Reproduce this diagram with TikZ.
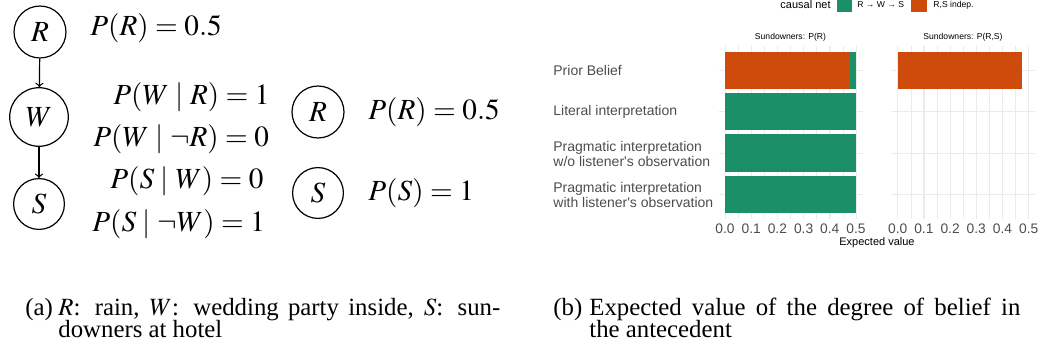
\documentclass[tikz,border=0pt]{standalone}
\usepackage{mathptmx}
\usepackage{fontspec}
\setmainfont{Liberation Serif}
\newfontfamily\plotfont{Liberation Sans}
\definecolor{netgreen}{HTML}{1B8F68}
\definecolor{indeporange}{HTML}{CE4B0B}
\definecolor{gridgray}{HTML}{EBEBEB}
\definecolor{axisgray}{HTML}{4D4D4D}
\tikzset{
  var/.style={draw, circle, line width=0.6pt, inner sep=4.6pt, font=\fontsize{14.6}{16}\selectfont},
  prob/.style={anchor=west, inner sep=0pt, font=\fontsize{14.6}{16}\selectfont},
  capt/.style={anchor=base west, inner sep=0pt, font=\fontsize{12.4}{14}\selectfont},
  cat/.style={anchor=west, inner sep=0pt, align=left, text=axisgray, font=\plotfont\fontsize{7}{7.6}\selectfont},
  tick/.style={inner sep=0pt, text=axisgray, font=\plotfont\fontsize{6.9}{7}\selectfont},
  small/.style={inner sep=0pt, font=\plotfont\fontsize{4.3}{5}\selectfont},
  grid/.style={draw=gridgray, line width=0.5pt},
  minorgrid/.style={draw=gridgray, line width=0.3pt}
}
\begin{document}
\begin{tikzpicture}[x=0.5pt, y=-0.5pt]
  \useasboundingbox (0,0) rectangle (1040,353);

  % (a) causal net R -> W -> S
  \node[var] (R) at (40,32) {$R$};
  \node[var] (W) at (39,117) {$W$};
  \node[var] (S) at (39,204) {$S$};
  \draw[->, line width=0.6pt] (R) -- (W);
  \draw[->, line width=0.6pt] (W) -- (S);

  \node[prob] (pR) at (90,28) {$P(R) = 0.5$};
  \node[prob] (pWR) at (113,97) {$P(W \mid R) = 1$};
  \node[prob] (pWnR) at (93,139) {$P(W \mid \neg R) = 0$};
  \node[prob] (pSW) at (110,181) {$P(S \mid W) = 0$};
  \node[prob] (pSnW) at (92,224) {$P(S \mid \neg W) = 1$};

  % independent net
  \node[var] (R2) at (318,112) {$R$};
  \node[var] (S2) at (318,193) {$S$};
  \node[prob] (pR2) at (368,112) {$P(R) = 0.5$};
  \node[prob] (pS2) at (368,193) {$P(S) = 1$};

  % (b) bar chart
  \foreach \xo in {725,897.7} {
    \foreach \v in {0,...,10} {
      \draw[minorgrid] ({\xo+26.2*\v/2},45.7) -- ({\xo+26.2*\v/2},219);
    }
    \foreach \v in {0,...,5} {
      \draw[grid] ({\xo+26.2*\v},45.7) -- ({\xo+26.2*\v},219);
      \node[tick] at ({\xo+26.2*\v},229) {0.\v};
    }
    \foreach \c in {70.5,111.8,153.1,194.4} {
      \draw[grid] ({\xo-6.5},\c) -- ({\xo+137.5},\c);
    }
  }

  % facet P(R)
  \fill[indeporange] (725,51.9) rectangle (850,89.1);
  \fill[netgreen] (850,51.9) rectangle (856,89.1);
  \fill[netgreen] (725,93.2) rectangle (856,130.4);
  \fill[netgreen] (725,134.5) rectangle (856,171.7);
  \fill[netgreen] (725,175.8) rectangle (856,213);
  % facet P(R,S)
  \fill[indeporange] (897.7,51.9) rectangle (1022.3,89.1);

  \node[small] (facetR) at (790.5,37) {Sundowners: P(R)};
  \node[small] (facetRS) at (963,37) {Sundowners: P(R,S)};

  \node[cat] (prior) at (553,70.5) {Prior Belief};
  \node[cat] (literal) at (553,111.8) {Literal interpretation};
  \node[cat] (pragwo) at (553,154) {Pragmatic interpretation\\w/o listener's observation};
  \node[cat] (pragw) at (553,195.3) {Pragmatic interpretation\\with listener's observation};

  \node[inner sep=0pt, font=\plotfont\fontsize{5.5}{6}\selectfont] (xlab) at (877,243) {Expected value};

  % legend
  \node[inner sep=0pt, anchor=east, font=\plotfont\fontsize{5.5}{6}\selectfont] (legtitle) at (831,5) {causal net};
  \fill[netgreen] (837,0) rectangle (852,12);
  \node[small, anchor=west] (legnet) at (857,5) {R → W → S};
  \fill[indeporange] (911,0) rectangle (927,12);
  \node[small, anchor=west] (legindep) at (933,5) {R,S indep.};

  % captions
  \node[capt] (capa) at (25,315) {(a)};
  \node[capt] (capa1) at (58,315) {\hbox to 221pt{$R$: rain, $W$: wedding party inside, $S$: sun-}};
  \node[capt] (capa2) at (58,337) {downers at hotel};
  \node[capt] (capb) at (553,315) {(b)};
  \node[capt] (capb1) at (589,315) {\hbox to 215.5pt{Expected value of the degree of belief in}};
  \node[capt] (capb2) at (589,337) {the antecedent};
\end{tikzpicture}
\end{document}
